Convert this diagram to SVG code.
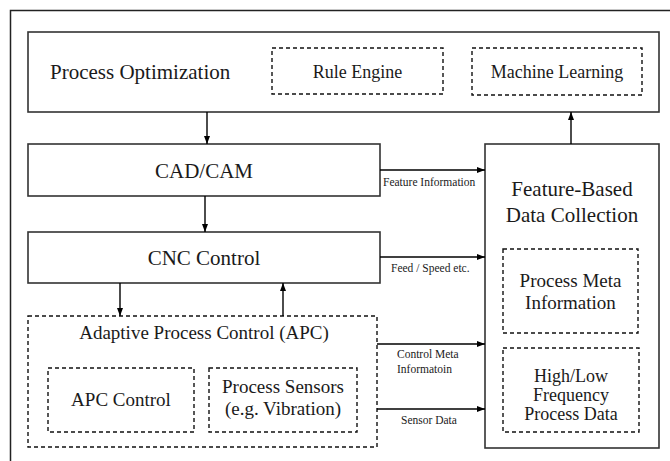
<svg xmlns="http://www.w3.org/2000/svg" width="670" height="461" viewBox="0 0 670 461">
<defs>
<marker id="ah" viewBox="0 0 8 6" refX="8" refY="3" markerWidth="8" markerHeight="6" markerUnits="userSpaceOnUse" orient="auto">
<path d="M0,0 L8,3 L0,6 z" fill="#000"/>
</marker>
<style>
.box{fill:#fff;stroke:#333;stroke-width:1.6}
.dash{fill:none;stroke:#111;stroke-width:1.4;stroke-dasharray:4,3}
text{font-family:'Liberation Serif','Times New Roman',Times,serif;fill:#1a1a1a}
.t{text-anchor:middle}
.big{font-size:21px}
.mid{font-size:19px}
.sm{font-size:18px}
.lab{font-size:11.5px}
.c{stroke:#000;stroke-width:1.4;fill:none;marker-end:url(#ah)}
</style>
</defs>
<rect x="0" y="0" width="670" height="461" fill="#fff"/>
<rect x="10.5" y="10.5" width="700" height="500" fill="none" stroke="#222" stroke-width="1.5"/>

<g id="process-optimization">
<rect class="box" x="28" y="32" width="631" height="80"/>
<text class="big" x="50" y="79">Process Optimization</text>
</g>
<g id="rule-engine">
<rect class="dash" x="272" y="48" width="171" height="46"/>
<text class="t sm" x="357.5" y="78">Rule Engine</text>
</g>
<g id="machine-learning">
<rect class="dash" x="472" y="48" width="170" height="47"/>
<text class="t sm" x="557" y="78">Machine Learning</text>
</g>
<g id="cad-cam">
<rect class="box" x="28" y="144" width="352" height="52"/>
<text class="t big" x="204" y="178">CAD/CAM</text>
</g>
<g id="cnc-control">
<rect class="box" x="28" y="232" width="352" height="51"/>
<text class="t big" x="204" y="265">CNC Control</text>
</g>
<g id="apc">
<rect class="dash" x="28" y="316" width="349" height="131"/>
<text class="t mid" x="204" y="339">Adaptive Process Control (APC)</text>
</g>
<g id="apc-control">
<rect class="dash" x="48" y="368" width="146" height="64"/>
<text class="t mid" x="121" y="406">APC Control</text>
</g>
<g id="process-sensors">
<rect class="dash" x="209" y="368" width="148" height="64"/>
<text class="t mid" x="283" y="393">Process Sensors</text>
<text class="t mid" x="283" y="415">(e.g. Vibration)</text>
</g>
<g id="feature-based-data-collection">
<rect class="box" x="485" y="144" width="174" height="304"/>
<text class="t big" x="572" y="196">Feature-Based</text>
<text class="t big" x="572" y="222">Data Collection</text>
</g>
<g id="process-meta-information">
<rect class="dash" x="503" y="249" width="135" height="84"/>
<text class="t mid" x="570.5" y="287">Process Meta</text>
<text class="t mid" x="570.5" y="309">Information</text>
</g>
<g id="high-low-frequency">
<rect class="dash" x="503" y="348" width="136" height="84"/>
<text class="t sm" x="571" y="382">High/Low</text>
<text class="t sm" x="571" y="401">Frequency</text>
<text class="t sm" x="571" y="420">Process Data</text>
</g>

<g id="connectors">
<line class="c" x1="207" y1="112" x2="207" y2="144"/>
<line class="c" x1="205" y1="196" x2="205" y2="232"/>
<line class="c" x1="120" y1="283" x2="120" y2="316"/>
<line class="c" x1="283" y1="316" x2="283" y2="283"/>
<line class="c" x1="571" y1="144" x2="571" y2="112"/>
<line class="c" x1="380" y1="170" x2="485" y2="170"/>
<line class="c" x1="380" y1="257" x2="485" y2="257"/>
<line class="c" x1="377" y1="344" x2="485" y2="344"/>
<line class="c" x1="377" y1="409" x2="485" y2="409"/>
<text class="lab" x="383" y="186">Feature Information</text>
<text class="lab" x="391" y="272">Feed / Speed etc.</text>
<text class="lab" x="397" y="358">Control Meta</text>
<text class="lab" x="397" y="373">Informatoin</text>
<text class="lab" x="401" y="424">Sensor Data</text>
</g>
</svg>
